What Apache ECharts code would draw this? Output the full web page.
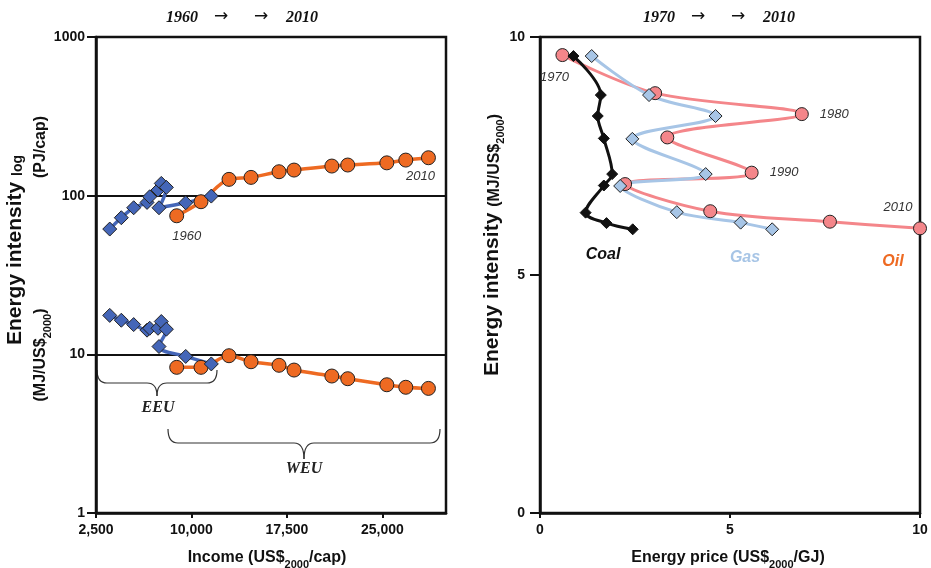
<!DOCTYPE html>
<html>
<head>
<meta charset="utf-8">
<script src="https://cdn.jsdelivr.net/npm/echarts@6/dist/echarts.min.js"></script>
</head>
<body style="margin:0;background:#fff;">
<div id="main" style="width:931px;height:568px;"></div>
<script>
// left panel: EEU / WEU, 1960..2010 every 5 years
var eeuIncome = [3580, 4490, 5460, 6510, 6720, 7370, 7630, 8030, 7450, 9550, 11560];
var eeuPerCapita = [61.6, 72.6, 83.9, 90.7, 98.4, 108.5, 119.5, 112.8, 83.9, 90.2, 99.4];
var eeuIntensity = [17.6, 16.4, 15.4, 14.2, 14.6, 14.6, 16.1, 14.4, 11.2, 9.7, 8.7];

var weuIncome = [8840, 10750, 12950, 14680, 16880, 18060, 21030, 22280, 25350, 26840, 28620];
var weuPerCapita = [74.7, 91.6, 126.7, 130.4, 141.5, 145, 153.7, 156, 161, 167.6, 173.4];
var weuIntensity = [8.28, 8.28, 9.8, 8.98, 8.53, 7.96, 7.3, 7.02, 6.43, 6.2, 6.1];

// right panel: 1970..2010 every 5 years
var oilPrice = [0.59, 3.03, 6.89, 3.35, 5.57, 2.24, 4.48, 7.63, 10.0];
var oilIntensity = [9.62, 8.82, 8.38, 7.89, 7.15, 6.91, 6.34, 6.12, 5.98];
var gasPrice = [1.36, 2.87, 4.62, 2.43, 4.36, 2.11, 3.60, 5.28, 6.11];
var gasIntensity = [9.60, 8.78, 8.34, 7.86, 7.12, 6.87, 6.32, 6.10, 5.96];
var coalPrice = [0.88, 1.60, 1.52, 1.68, 1.90, 1.68, 1.20, 1.75, 2.44];
var coalIntensity = [9.60, 8.78, 8.34, 7.87, 7.12, 6.88, 6.31, 6.09, 5.96];

var incomeTicks = [2500, 30000, 7500]; // min, max, interval
var energyTicks = [1, 1000];
var priceTicks = [0, 10, 5];

var font = 'Liberation Sans';
var blue = '#4466b8', orange = '#ee6a22', pink = '#f4868a', lightBlue = '#a7c5e6';

function pairs(xs, ys, labels) {
    return xs.map(function (x, i) {
        var item = { value: [x, ys[i]] };
        if (labels && labels[i]) item.label = labels[i];
        return item;
    });
}
function yearLabel(text, pos, offset) {
    return {
        show: true, formatter: text, position: pos, offset: offset || [0, 0],
        fontFamily: font, fontStyle: 'italic', fontSize: 13, color: '#333'
    };
}
// curly brace made of quadratic curves and straight lines
function brace(x1, x2, y1, yh, tip) {
    var cx = (x1 + x2) / 2, r = 10;
    var st = { fill: null, stroke: '#333', lineWidth: 1.2 };
    function q(ax, ay, cpx, cpy, bx, by) {
        return { type: 'bezierCurve', shape: { x1: ax, y1: ay, cpx1: cpx, cpy1: cpy, x2: bx, y2: by }, style: st };
    }
    function l(ax, ay, bx, by) {
        return { type: 'line', shape: { x1: ax, y1: ay, x2: bx, y2: by }, style: st };
    }
    return [
        q(x1, y1, x1, yh, x1 + r, yh),
        l(x1 + r, yh, cx - r, yh),
        q(cx - r, yh, cx, yh, cx, tip),
        q(cx, tip, cx, yh, cx + r, yh),
        l(cx + r, yh, x2 - r, yh),
        q(x2 - r, yh, x2, yh, x2, y1)
    ];
}
// "1960  ->  ->  2010" headers
function header(x, from, to) {
    var f = 'italic bold 16px "Liberation Serif"';
    function t(dx, s, arrow) {
        return { type: 'text', x: x + dx, y: arrow ? 17 : 18, style: { text: s, textAlign: 'center', textVerticalAlign: 'middle',
            font: arrow ? 'normal 17px "DejaVu Sans"' : f, fill: '#111' } };
    }
    return [t(-61, from), t(-22, '\u2192', true), t(18, '\u2192', true), t(59, to)];
}

var axisStyle = {
    axisLine: { show: true, onZero: false, lineStyle: { color: '#111', width: 2.5 } },
    axisTick: { show: true, inside: false, length: 5, lineStyle: { color: '#111', width: 2 } },
    axisLabel: { fontFamily: font, fontWeight: 'bold', fontSize: 14, color: '#111', margin: 10 }
};
function ax(extra) {
    return Object.assign({}, JSON.parse(JSON.stringify(axisStyle)), extra);
}

var lineBase = { type: 'line', smooth: 0.35, clip: false, animation: false };
var subRich = function (big, small) {
    return {
        a: { fontFamily: font, fontWeight: 'bold', fontSize: big, fill: '#111', verticalAlign: 'bottom' },
        s: { fontFamily: font, fontWeight: 'bold', fontSize: small, fill: '#111', verticalAlign: 'bottom', padding: [0, 0, -4, 0] }
    };
};

var chart = echarts.init(document.getElementById('main'));
chart.setOption({
    animation: false,
    grid: [
        { left: 96, top: 37, width: 350, height: 476, show: true, borderColor: '#111', borderWidth: 2.5, backgroundColor: 'transparent' },
        { left: 540, top: 37, width: 380, height: 476, show: true, borderColor: '#111', borderWidth: 2.5, backgroundColor: 'transparent' }
    ],
    xAxis: [
        ax({ gridIndex: 0, type: 'value', min: incomeTicks[0], max: incomeTicks[1], interval: incomeTicks[2],
             splitLine: { show: false },
             axisLabel: Object.assign({}, axisStyle.axisLabel, { showMaxLabel: false,
                 formatter: function (v) { return v.toLocaleString('en-US'); } }) }),
        ax({ gridIndex: 1, type: 'value', min: priceTicks[0], max: priceTicks[1], interval: priceTicks[2],
             splitLine: { show: false } })
    ],
    yAxis: [
        ax({ gridIndex: 0, type: 'log', logBase: 10, min: energyTicks[0], max: energyTicks[1],
             splitLine: { show: true, lineStyle: { color: '#111', width: 2 } },
             axisTick: { show: true, length: 9, lineStyle: { color: '#111', width: 2 } },
             axisLabel: Object.assign({}, axisStyle.axisLabel, { margin: 11,
                 formatter: function (v) { return String(Math.round(v)); } }) }),
        ax({ gridIndex: 1, type: 'value', min: priceTicks[0], max: priceTicks[1], interval: priceTicks[2],
             splitLine: { show: false },
             axisTick: { show: true, length: 10, lineStyle: { color: '#111', width: 2 } },
             axisLabel: Object.assign({}, axisStyle.axisLabel, { margin: 15 }) })
    ],
    series: [
        Object.assign({}, lineBase, {
            name: 'WEU per capita', xAxisIndex: 0, yAxisIndex: 0,
            symbol: 'circle', symbolSize: 14,
            itemStyle: { color: orange, borderColor: '#222', borderWidth: 1 },
            lineStyle: { color: orange, width: 3.5 },
            data: pairs(weuIncome, weuPerCapita, { 0: yearLabel('1960', 'bottom', [10, 2]), 10: yearLabel('2010', 'bottom', [-8, 0]) })
        }),
        Object.assign({}, lineBase, {
            name: 'WEU intensity', xAxisIndex: 0, yAxisIndex: 0,
            symbol: 'circle', symbolSize: 14,
            itemStyle: { color: orange, borderColor: '#222', borderWidth: 1 },
            lineStyle: { color: orange, width: 3.5 },
            data: pairs(weuIncome, weuIntensity)
        }),
        Object.assign({}, lineBase, {
            name: 'EEU per capita', xAxisIndex: 0, yAxisIndex: 0,
            symbol: 'diamond', symbolSize: 14,
            itemStyle: { color: blue, borderColor: '#222', borderWidth: 1 },
            lineStyle: { color: blue, width: 3.5 },
            data: pairs(eeuIncome, eeuPerCapita)
        }),
        Object.assign({}, lineBase, {
            name: 'EEU intensity', xAxisIndex: 0, yAxisIndex: 0,
            symbol: 'diamond', symbolSize: 14,
            itemStyle: { color: blue, borderColor: '#222', borderWidth: 1 },
            lineStyle: { color: blue, width: 3.5 },
            data: pairs(eeuIncome, eeuIntensity)
        }),
        Object.assign({}, lineBase, {
            name: 'Oil', xAxisIndex: 1, yAxisIndex: 1,
            symbol: 'circle', symbolSize: 13,
            itemStyle: { color: pink, borderColor: '#222', borderWidth: 1 },
            lineStyle: { color: pink, width: 3 },
            data: pairs(oilPrice, oilIntensity, {
                0: yearLabel('1970', 'bottom', [-8, 4]),
                2: yearLabel('1980', 'right', [6, 0]),
                4: yearLabel('1990', 'right', [6, 0]),
                8: yearLabel('2010', 'top', [-22, -2])
            })
        }),
        Object.assign({}, lineBase, {
            name: 'Gas', xAxisIndex: 1, yAxisIndex: 1,
            symbol: 'diamond', symbolSize: 13,
            itemStyle: { color: lightBlue, borderColor: '#222', borderWidth: 1 },
            lineStyle: { color: lightBlue, width: 3 },
            data: pairs(gasPrice, gasIntensity)
        }),
        Object.assign({}, lineBase, {
            name: 'Coal', xAxisIndex: 1, yAxisIndex: 1,
            symbol: 'diamond', symbolSize: 11,
            itemStyle: { color: '#111', borderColor: '#111', borderWidth: 1 },
            lineStyle: { color: '#111', width: 3 },
            data: pairs(coalPrice, coalIntensity)
        })
    ],
    graphic: header(243, '1960', '2010').concat(header(720, '1970', '2010'),
        brace(97, 217, 370, 383, 396), brace(168, 440, 429, 443, 459), [
        { type: 'text', x: 158, y: 408, style: { text: 'EEU', textAlign: 'center', textVerticalAlign: 'middle',
            font: 'italic bold 16px "Liberation Serif"', fill: '#222' } },
        { type: 'text', x: 304, y: 469, style: { text: 'WEU', textAlign: 'center', textVerticalAlign: 'middle',
            font: 'italic bold 16px "Liberation Serif"', fill: '#222' } },
        // fuel names
        { type: 'text', x: 603, y: 255, style: { text: 'Coal', textAlign: 'center', textVerticalAlign: 'middle',
            font: 'italic bold 16px "Liberation Sans"', fill: '#111' } },
        { type: 'text', x: 745, y: 258, style: { text: 'Gas', textAlign: 'center', textVerticalAlign: 'middle',
            font: 'italic bold 16px "Liberation Sans"', fill: lightBlue } },
        { type: 'text', x: 893, y: 262, style: { text: 'Oil', textAlign: 'center', textVerticalAlign: 'middle',
            font: 'italic bold 16px "Liberation Sans"', fill: orange } },
        // axis titles
        { type: 'text', x: 267, y: 558, style: {
            text: '{a|Income (US$}{s|2000}{a|/cap)}', textAlign: 'center', textVerticalAlign: 'middle',
            rich: subRich(16, 11) } },
        { type: 'text', x: 728, y: 558, style: {
            text: '{a|Energy price (US$}{s|2000}{a|/GJ)}', textAlign: 'center', textVerticalAlign: 'middle',
            rich: subRich(16, 11) } },
        { type: 'text', x: 492, y: 245, rotation: Math.PI / 2, style: {
            text: '{a|Energy intensity }{b|(MJ/US$}{s|2000}{b|)}', textAlign: 'center', textVerticalAlign: 'middle',
            rich: Object.assign(subRich(21, 11), { b: { fontFamily: font, fontWeight: 'bold', fontSize: 16, fill: '#111', verticalAlign: 'bottom' } }) } },
        { type: 'text', x: 15, y: 250, rotation: Math.PI / 2, style: {
            text: '{a|Energy intensity }{l|log}', textAlign: 'center', textVerticalAlign: 'middle',
            rich: { a: { fontFamily: font, fontWeight: 'bold', fontSize: 21, fill: '#111', verticalAlign: 'bottom' },
                    l: { fontFamily: font, fontWeight: 'bold', fontSize: 14, fill: '#111', verticalAlign: 'bottom' } } } },
        { type: 'text', x: 41, y: 147, rotation: Math.PI / 2, style: {
            text: '(PJ/cap)', textAlign: 'center', textVerticalAlign: 'middle',
            font: 'bold 16px "Liberation Sans"', fill: '#111' } },
        { type: 'text', x: 41, y: 355, rotation: Math.PI / 2, style: {
            text: '{a|(MJ/US$}{s|2000}{a|)}', textAlign: 'center', textVerticalAlign: 'middle',
            rich: subRich(16, 11) } }
    ])
});
</script>
</body>
</html>
